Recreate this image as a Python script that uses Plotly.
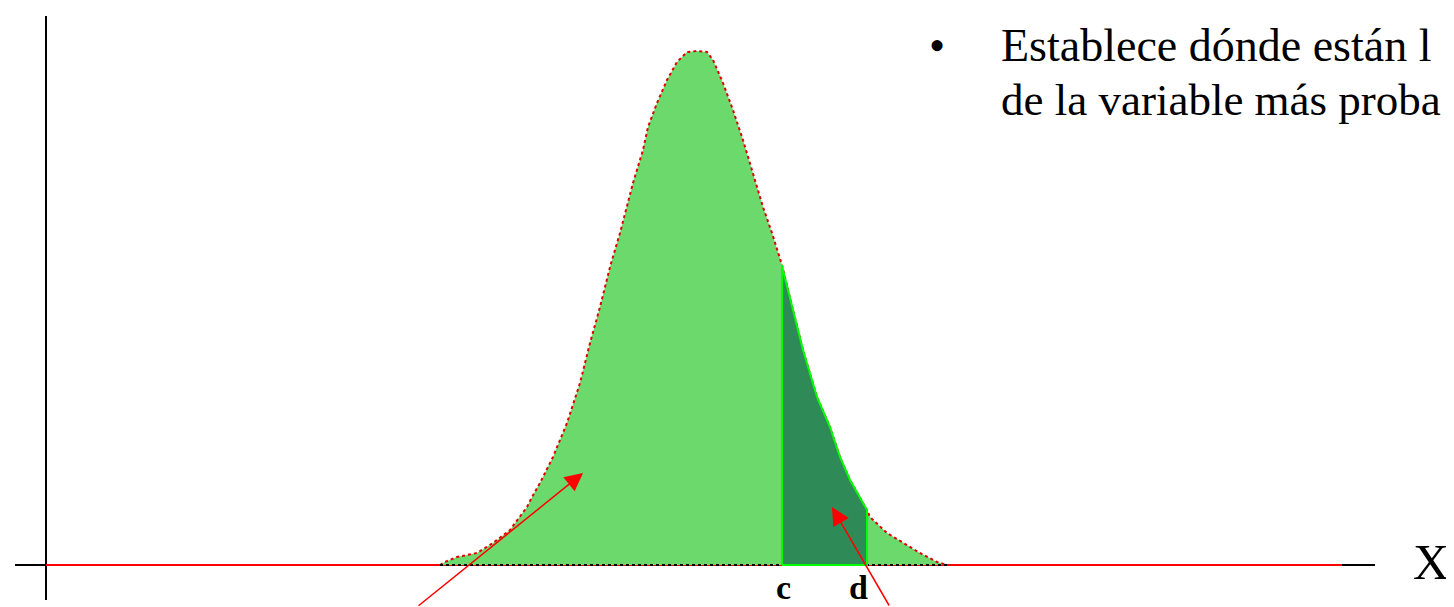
import plotly.graph_objects as go

# Bell curve outline (x, height above the X axis)
curve_x = [394, 399, 411, 431, 447, 464, 481, 486, 494, 507, 521, 534, 544, 554, 564, 574,
           587, 597, 602, 611, 621, 631, 641, 651, 661, 667, 677, 687, 697, 707, 717, 726,
           736, 747, 757, 771, 784, 794, 804, 821, 824, 841, 857, 874, 891, 901]
curve_y = [0, 3, 8, 12, 22, 35, 58, 68, 82, 108, 142, 182, 222, 258, 298, 332,
           382, 415, 438, 462, 485, 503, 513, 514, 513, 505, 482, 455, 425, 392, 358, 332,
           300, 255, 215, 168, 138, 108, 85, 55, 48, 32, 22, 12, 3, 0]

# Shaded band between c and d
c_pos, d_pos = 736, 821
band_x = [736, 737, 747, 757, 771, 784, 794, 804, 821]
band_y = [300, 295, 255, 215, 168, 138, 108, 85, 55]

tick_labels = ["c", "d"]
tick_pos = [c_pos + 1, d_pos - 9]

text_lines = ["Establece dónde están l", "de la variable más proba"]

# axis extents
x_axis_len = 1296
y_axis_top = 549

LIGHT = "#6cd96c"
DARK = "#2e8b57"
BRIGHT = "#00ff00"

fig = go.Figure()

# axes (black)
fig.add_trace(go.Scatter(x=[-31, 1329], y=[0, 0], mode="lines",
                         line=dict(color="black", width=2), hoverinfo="skip"))
fig.add_trace(go.Scatter(x=[0, 0], y=[-35, y_axis_top], mode="lines",
                         line=dict(color="black", width=2), hoverinfo="skip"))
# red base line
fig.add_trace(go.Scatter(x=[0, x_axis_len], y=[0, 0], mode="lines",
                         line=dict(color="red", width=2), hoverinfo="skip"))

# curve with fill
fig.add_trace(go.Scatter(x=curve_x, y=curve_y, mode="lines", fill="tozeroy",
                         fillcolor=LIGHT, line=dict(color="#e00000", width=2, dash="dot"),
                         hoverinfo="skip"))
# dotted black baseline under the curve
fig.add_trace(go.Scatter(x=[curve_x[0], curve_x[-1]], y=[0, 0], mode="lines",
                         line=dict(color="black", width=2, dash="dot"), hoverinfo="skip"))

# dark band between c and d
bx = [c_pos] + band_x + [d_pos, c_pos]
by = [0] + band_y + [0, 0]
fig.add_trace(go.Scatter(x=bx, y=by, mode="lines", fill="toself", fillcolor=DARK,
                         line=dict(color=BRIGHT, width=2), hoverinfo="skip"))

serif = "Liberation Serif, Times New Roman, serif"

ann = []
ann.append(dict(x=891, y=520, xref="x", yref="y", text="•", showarrow=False,
                font=dict(family=serif, size=46, color="black"), xanchor="center", yanchor="middle"))
ann.append(dict(x=953, y=520, xref="x", yref="y", text=text_lines[0], showarrow=False,
                font=dict(family=serif, size=46, color="black"), xanchor="left", yanchor="middle"))
ann.append(dict(x=953, y=465, xref="x", yref="y", text=text_lines[1], showarrow=False,
                font=dict(family=serif, size=45, color="black"), xanchor="left", yanchor="middle"))
for lab, pos in zip(tick_labels, tick_pos):
    ann.append(dict(x=pos, y=-42, xref="x", yref="y", text="<b>%s</b>" % lab, showarrow=False,
                    borderpad=0, font=dict(family=serif, size=34, color="black"),
                    xanchor="center", yanchor="bottom"))
ann.append(dict(x=1385, y=3, xref="x", yref="y", text="X", showarrow=False,
                font=dict(family=serif, size=50, color="black"), xanchor="center", yanchor="middle"))
# arrows
ann.append(dict(x=537, y=92, ax=371, ay=-42, xref="x", yref="y", axref="x", ayref="y",
                text="", showarrow=True, arrowhead=2, arrowsize=2.4, arrowwidth=1.5,
                arrowcolor="red", standoff=0))
ann.append(dict(x=786, y=58, ax=844, ay=-42, xref="x", yref="y", axref="x", ayref="y",
                text="", showarrow=True, arrowhead=2, arrowsize=2.4, arrowwidth=1.5,
                arrowcolor="red", standoff=0))

# the page body has an 8px margin, so the figure is sized and ranged to fill the window
fig.update_layout(
    width=1446, height=599,
    margin=dict(l=0, r=0, t=0, b=0),
    paper_bgcolor="white", plot_bgcolor="white",
    showlegend=False,
    xaxis=dict(range=[-38, 1408], visible=False, fixedrange=True),
    yaxis=dict(range=[-42, 557], visible=False, fixedrange=True),
    annotations=ann,
)

fig.write_html("out.html")
